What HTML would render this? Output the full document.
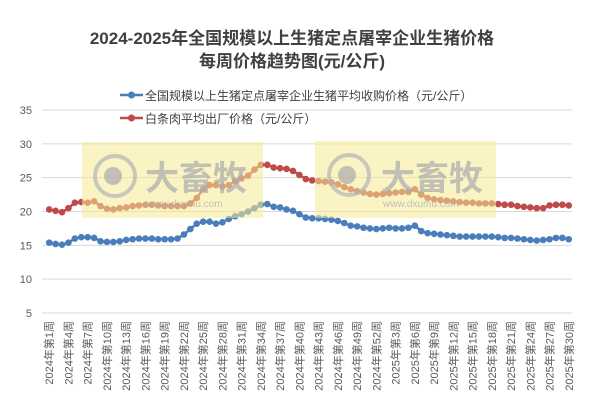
<!DOCTYPE html>
<html><head><meta charset="utf-8"><style>
body{margin:0;background:#fff;}
svg{display:block;font-family:"Liberation Sans","Noto Sans CJK SC",sans-serif;}
</style></head><body>
<svg id="chart" width="602" height="410">
<text x="292" y="44" text-anchor="middle" font-size="17" font-weight="bold" fill="#404040">2024-2025年全国规模以上生猪定点屠宰企业生猪价格</text>
<text x="292" y="67" text-anchor="middle" font-size="17" font-weight="bold" fill="#404040">每周价格趋势图(元/公斤)</text>
<g>
<line x1="120" y1="95" x2="143" y2="95" stroke="#4a7ebb" stroke-width="2.5"/><circle cx="131.5" cy="95" r="3.5" fill="#4a7ebb"/>
<text x="145" y="100" font-size="12" fill="#404040">全国规模以上生猪定点屠宰企业生猪平均收购价格（元/公斤）</text></g>
<g>
<line x1="120" y1="118" x2="143" y2="118" stroke="#be4b48" stroke-width="2.5"/><circle cx="131.5" cy="118" r="3.5" fill="#be4b48"/>
<text x="145" y="123" font-size="12" fill="#404040">白条肉平均出厂价格（元/公斤）</text></g>
<g id="grid"></g><g id="ylabels"></g><g id="xlabels"></g><g id="series"></g>
<g opacity="1">
<rect x="82" y="142" width="181" height="76" fill="rgba(245,235,150,0.55)"/>
<circle cx="115" cy="176" r="20" fill="none" stroke="rgba(180,180,180,0.7)" stroke-width="4"/><circle cx="113" cy="176" r="9" fill="rgba(170,170,170,0.7)"/>
<text x="145" y="190" font-size="34" font-weight="bold" fill="rgba(170,170,170,0.7)">大畜牧</text>
<text x="147" y="207" font-size="10" fill="rgba(170,170,170,0.7)">www.dxumu.com</text>
<rect x="315" y="141" width="181" height="77" fill="rgba(245,235,150,0.55)"/>
<circle cx="349" cy="175" r="20" fill="none" stroke="rgba(180,180,180,0.7)" stroke-width="4"/><circle cx="347" cy="175" r="9" fill="rgba(170,170,170,0.7)"/>
<text x="381" y="190" font-size="34" font-weight="bold" fill="rgba(170,170,170,0.7)">大畜牧</text>
<text x="383" y="207" font-size="10" fill="rgba(170,170,170,0.7)">www.dxumu.com</text>
</g>
</svg>
<script>
const categories=[];
for(let w=1;w<=52;w++)categories.push("2024年第"+w+"周");
for(let w=1;w<=30;w++)categories.push("2025年第"+w+"周");
const purchasePrice=[15.4,15.2,15.1,15.4,16.0,16.2,16.2,16.1,15.6,15.5,15.5,15.6,15.8,15.9,16.0,16.0,16.0,15.9,15.9,15.9,16.0,16.6,17.4,18.2,18.5,18.5,18.2,18.4,18.9,19.3,19.6,20.0,20.5,21.0,21.1,20.7,20.6,20.3,20.1,19.6,19.1,19.0,19.0,18.9,18.8,18.6,18.3,17.9,17.8,17.6,17.5,17.4,
17.5,17.6,17.5,17.5,17.6,17.9,17.1,16.8,16.7,16.6,16.5,16.4,16.3,16.3,16.3,16.3,16.3,16.3,16.2,16.1,16.1,16.0,15.9,15.8,15.7,15.8,15.9,16.1,16.1,15.9];
const carcassPrice=[20.3,20.1,19.9,20.5,21.3,21.4,21.3,21.5,20.8,20.4,20.3,20.5,20.6,20.8,20.9,21.0,21.0,20.9,20.8,20.8,20.8,20.8,21.2,22.0,23.3,23.9,23.9,23.7,23.9,24.5,24.9,25.3,26.2,26.9,26.9,26.5,26.4,26.3,26.0,25.4,24.8,24.6,24.5,24.4,24.3,24.0,23.6,23.3,23.0,22.8,22.6,22.5,
22.6,22.7,22.8,22.9,22.9,23.3,22.5,22.0,21.8,21.7,21.6,21.5,21.4,21.3,21.3,21.2,21.2,21.2,21.1,21.0,21.0,20.8,20.7,20.6,20.5,20.5,20.9,21.0,21.0,20.9];
const yTicks=[5,10,15,20,25,30,35];
const NS="http://www.w3.org/2000/svg";
const X0=46,X1=572,Y0=313,Y1=110,YMIN=5,YMAX=35;
const band=(X1-X0)/categories.length;
function xs(i){return X0+band*(i+0.5);}
function ys(v){return Y0-(v-YMIN)/(YMAX-YMIN)*(Y0-Y1);}
function mk(tag,attrs,parent){const e=document.createElementNS(NS,tag);for(const k in attrs)e.setAttribute(k,attrs[k]);parent.appendChild(e);return e;}
const grid=document.getElementById('grid'),yl=document.getElementById('ylabels'),xl=document.getElementById('xlabels'),ser=document.getElementById('series');
yTicks.forEach(t=>{
 const l=mk('line',{x1:X0-4,x2:X1,y1:ys(t),y2:ys(t),stroke:'#d9d9d9','stroke-width':1},grid);
 
 
 const tx=mk('text',{x:32,y:ys(t)+4,'text-anchor':'end','font-size':11,fill:'#595959'},yl);
 tx.textContent=t;
 
 
});
categories.forEach((c,i)=>{
 if(i%3!==0)return;
 const x=xs(i)+4;
 const tx=mk('text',{x:x,y:321,'text-anchor':'end','font-size':11,fill:'#595959',transform:'rotate(-90 '+x+' 321)'},xl);
 tx.textContent=c;
 
 
});
function draw(vals,color,name){
 const g=mk('g',{},ser);
 
 
 const p=mk('polyline',{points:vals.map((v,i)=>xs(i)+','+ys(v)).join(' '),fill:'none',stroke:color,'stroke-width':2.5},g);
 
 
 vals.forEach((v,i)=>{
  const c=mk('circle',{cx:xs(i),cy:ys(v),r:3.3,fill:color},g);
  
  
 });
}
draw(purchasePrice,'#4a7ebb','purchase-price-series');
draw(carcassPrice,'#be4b48','carcass-price-series');
</script>
</body></html>
